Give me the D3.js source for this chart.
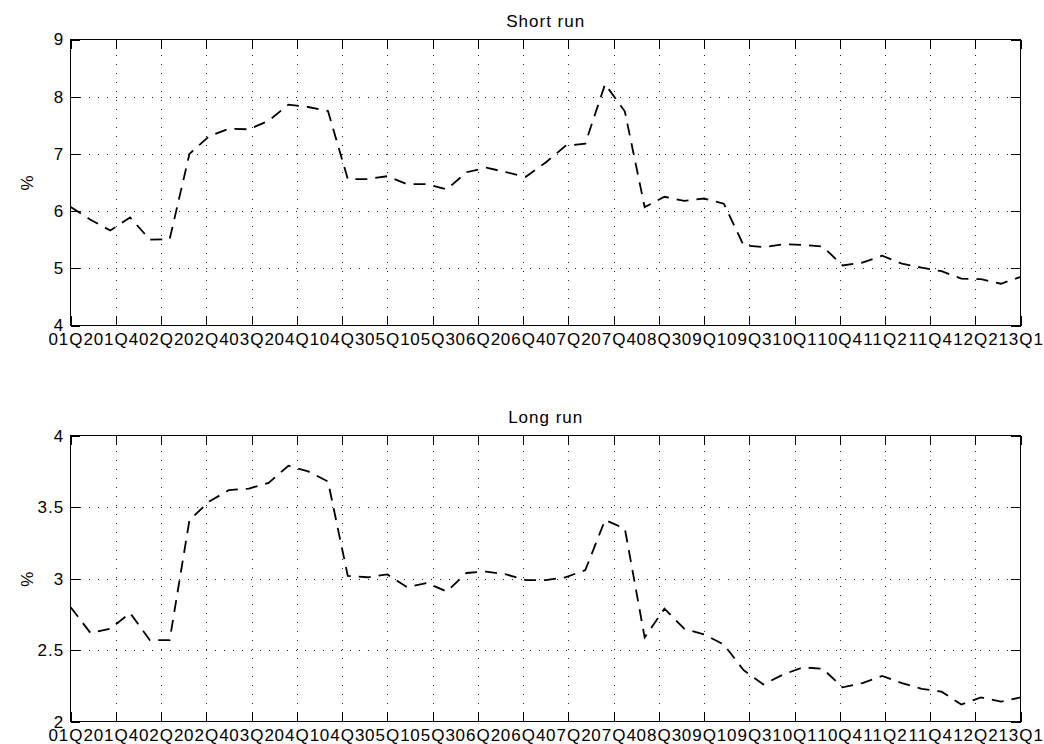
<!DOCTYPE html>
<html>
<head>
<meta charset="utf-8">
<script src="https://cdn.jsdelivr.net/npm/d3@7"></script>
<style>
  body { margin: 0; background: #fff; }
  text { font-family: "Liberation Sans", Arial, sans-serif; font-size: 17px; letter-spacing: 1px; fill: #000; }
</style>
</head>
<body>
<div id="chart"></div>
<script>
// quarter tick labels (22 ticks spread across the axis)
var tickLabels = ["01Q2","01Q4","02Q2","02Q4","03Q2","04Q1","04Q3","05Q1","05Q3","06Q2","06Q4",
                  "07Q2","07Q4","08Q3","09Q1","09Q3","10Q1","10Q4","11Q2","11Q4","12Q2","13Q1"];

var shortRun = [6.07,5.85,5.66,5.89,5.50,5.51,7.00,7.31,7.44,7.43,7.58,7.86,7.82,7.75,
                6.56,6.56,6.61,6.47,6.47,6.38,6.68,6.76,6.68,6.60,6.85,7.14,7.18,8.22,
                7.74,6.07,6.25,6.18,6.22,6.13,5.40,5.37,5.42,5.41,5.38,5.05,5.10,5.22,
                5.08,5.01,4.95,4.82,4.81,4.73,4.85];

var longRun = [2.80,2.62,2.65,2.76,2.57,2.57,3.41,3.54,3.62,3.63,3.67,3.79,3.75,3.68,
               3.02,3.01,3.03,2.94,2.97,2.91,3.04,3.05,3.03,2.99,2.99,3.01,3.06,3.41,
               3.35,2.59,2.79,2.65,2.61,2.54,2.36,2.26,2.33,2.38,2.37,2.24,2.27,2.32,
               2.27,2.23,2.21,2.12,2.17,2.14,2.17];

var shortTicks = [4,5,6,7,8,9];
var longTicks = [2,2.5,3,3.5,4];

var width = 1044, height = 744;
var left = 70.7, right = 1020.7, ph = 286;

var svg = d3.select("#chart").append("svg")
    .attr("width", width)
    .attr("height", height);

var x = d3.scaleLinear().domain([0, shortRun.length - 1]).range([left, right]);
var xt = d3.range(tickLabels.length).map(function(k){ return (shortRun.length - 1) * k / (tickLabels.length - 1); });

function panel(top, title, values, ticks) {
  var y = d3.scaleLinear().domain([ticks[0], ticks[ticks.length-1]]).range([top + ph, top]);
  var g = svg.append("g");

  // dotted grid
  g.append("g")
    .attr("transform", "translate(0," + (top + ph) + ")")
    .call(d3.axisBottom(x).tickValues(xt.slice(1, -1)).tickSize(-ph).tickFormat(""))
    .call(function(s){ s.select(".domain").remove(); });
  g.append("g")
    .attr("transform", "translate(" + left + ",0)")
    .call(d3.axisLeft(y).tickValues(ticks.slice(1, -1)).tickSize(-(right - left)).tickFormat(""))
    .call(function(s){ s.select(".domain").remove(); });
  g.selectAll("line")
    .attr("stroke", "#222")
    .attr("stroke-dasharray", "1,8")
    .attr("shape-rendering", "crispEdges");

  // the series
  var line = d3.line()
    .x(function(d, i){ return x(i); })
    .y(function(d){ return y(d); });
  g.append("path")
    .datum(values)
    .attr("d", line)
    .attr("fill", "none")
    .attr("stroke", "#000")
    .attr("stroke-width", 1.8)
    .attr("stroke-dasharray", "12,8");

  // axes, ticks pointing inwards
  var ax = svg.append("g").attr("class", "axes");
  ax.append("g")
    .attr("transform", "translate(0," + (top + ph) + ")")
    .call(d3.axisBottom(x).tickValues(xt).tickSize(-9.5).tickSizeOuter(0).tickPadding(7)
      .tickFormat(function(d, i){ return tickLabels[i]; }));
  ax.append("g")
    .attr("transform", "translate(0," + top + ")")
    .call(d3.axisTop(x).tickValues(xt).tickSize(-9.5).tickSizeOuter(0).tickFormat(""));
  ax.append("g")
    .attr("transform", "translate(" + left + ",0)")
    .call(d3.axisLeft(y).tickValues(ticks).tickSize(-9.5).tickSizeOuter(0).tickPadding(6.5)
      .tickFormat(d3.format("")));
  ax.append("g")
    .attr("transform", "translate(" + right + ",0)")
    .call(d3.axisRight(y).tickValues(ticks).tickSize(-9.5).tickSizeOuter(0).tickFormat(""));
  ax.selectAll(".domain").remove();
  ax.selectAll("text").attr("font-family", null).attr("font-size", null);
  ax.selectAll("line").attr("stroke", "#000").attr("shape-rendering", "crispEdges");

  svg.append("rect")
    .attr("x", left).attr("y", top)
    .attr("width", right - left).attr("height", ph)
    .attr("fill", "none")
    .attr("stroke", "#000")
    .attr("stroke-width", 1.2)
    .attr("shape-rendering", "crispEdges");

  svg.append("text")
    .attr("x", (left + right) / 2)
    .attr("y", top - 13)
    .attr("text-anchor", "middle")
    .text(title);

  svg.append("text")
    .attr("transform", "translate(33," + (top + ph / 2) + ") rotate(-90)")
    .attr("text-anchor", "middle")
    .text("%");
}

panel(39.5, "Short run", shortRun, shortTicks);
panel(435.7, "Long run", longRun, longTicks);
</script>
</body>
</html>
